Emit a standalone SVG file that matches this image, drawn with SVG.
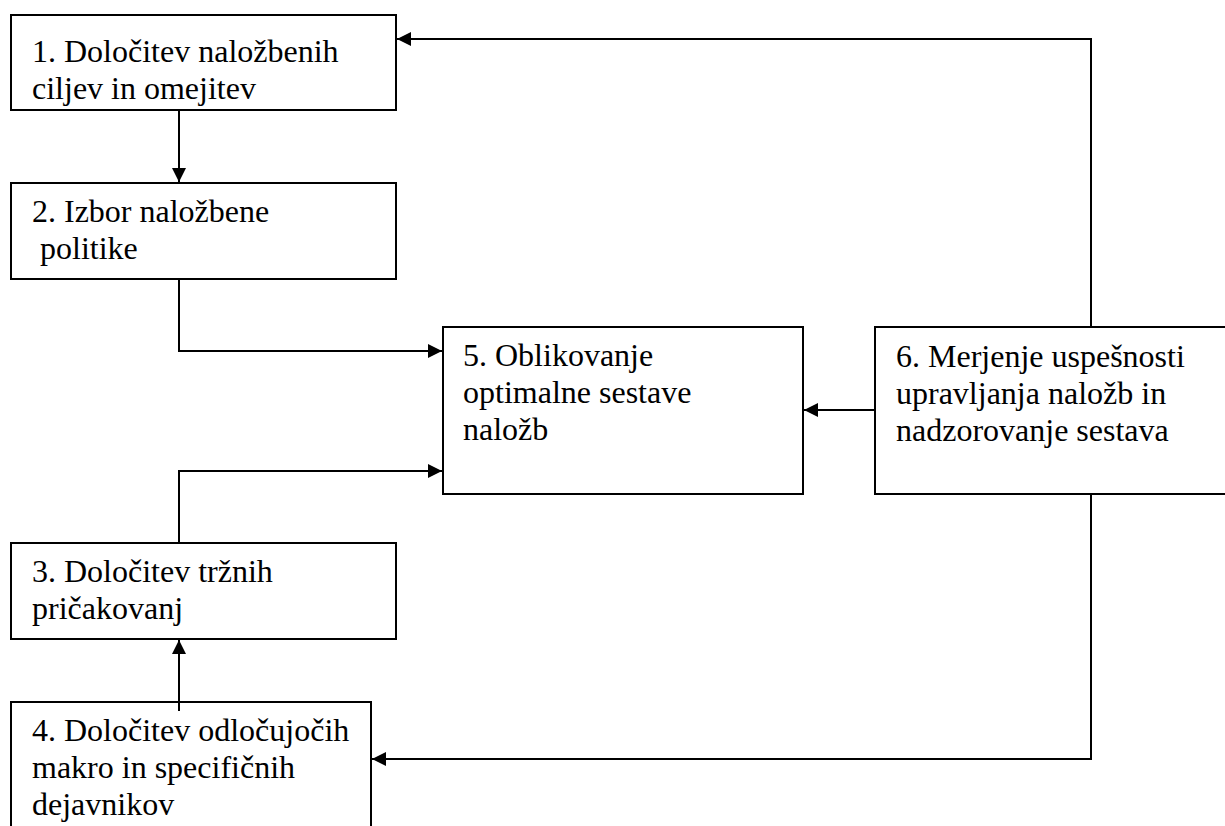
<svg xmlns="http://www.w3.org/2000/svg" width="1225" height="826" viewBox="0 0 1225 826">
<style>
.box{fill:#fff;stroke:#000;stroke-width:2}
.t{font-family:"Liberation Serif","Times New Roman",serif;font-size:32px;fill:#000}
.c{fill:none;stroke:#000;stroke-width:2;marker-end:url(#ah)}
</style>
<defs>
<marker id="ah" markerUnits="userSpaceOnUse" markerWidth="15" markerHeight="14" refX="14" refY="7" orient="auto">
<path d="M0,0 L14,7 L0,14 z" fill="#000"/>
</marker>
</defs>
<rect width="1225" height="826" fill="#fff"/>
<g id="n1">
<rect class="box" x="11" y="15" width="385" height="95"/>
<text class="t" x="32" y="62">1. Določitev naložbenih</text>
<text class="t" x="32" y="99">ciljev in omejitev</text>
</g>
<g id="n2">
<rect class="box" x="11" y="183" width="385" height="96"/>
<text class="t" x="32" y="222">2. Izbor naložbene</text>
<text class="t" x="32" y="259" xml:space="preserve"> politike</text>
</g>
<g id="n3">
<rect class="box" x="11" y="543" width="385" height="96"/>
<text class="t" x="32" y="582">3. Določitev tržnih</text>
<text class="t" x="32" y="619">pričakovanj</text>
</g>
<g id="n4">
<rect class="box" x="11" y="702" width="360" height="200"/>
<text class="t" x="32" y="741">4. Določitev odločujočih</text>
<text class="t" x="32" y="778">makro in specifičnih</text>
<text class="t" x="32" y="815">dejavnikov</text>
</g>
<g id="n5">
<rect class="box" x="443" y="327" width="360" height="167"/>
<text class="t" x="463" y="366">5. Oblikovanje</text>
<text class="t" x="463" y="403">optimalne sestave</text>
<text class="t" x="463" y="440">naložb</text>
</g>
<g id="n6">
<rect class="box" x="875" y="327" width="400" height="167"/>
<text class="t" x="896" y="367">6. Merjenje uspešnosti</text>
<text class="t" x="896" y="404">upravljanja naložb in</text>
<text class="t" x="896" y="441">nadzorovanje sestava</text>
</g>
<g id="connectors">
<path class="c" d="M179,110 L179,182"/>
<path class="c" d="M179,279 L179,351 L442,351"/>
<path class="c" d="M179,543 L179,471 L442,471"/>
<path class="c" d="M179,711 L179,640"/>
<path class="c" d="M875,410 L804,410"/>
<path class="c" d="M1091,327 L1091,39 L397,39"/>
<path class="c" d="M1091,494 L1091,759 L372,759"/>
</g>
</svg>
